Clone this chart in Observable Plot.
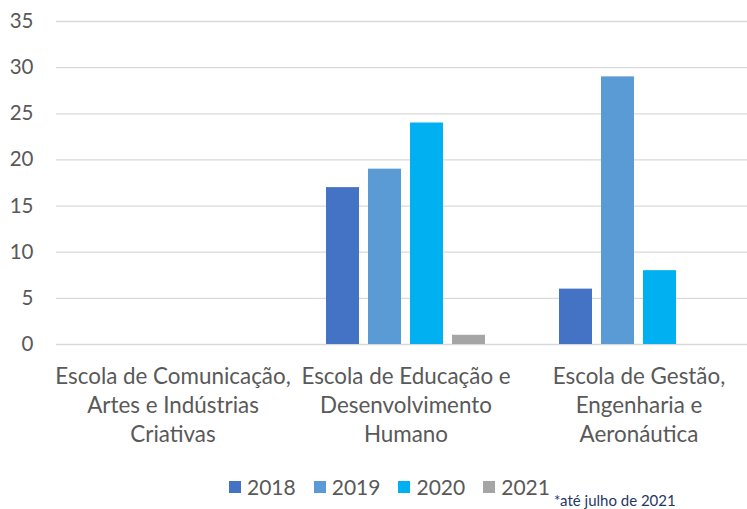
<!DOCTYPE html>
<html>
<head>
<meta charset="utf-8">
<script src="https://cdn.jsdelivr.net/npm/d3@7"></script>
<script src="https://cdn.jsdelivr.net/npm/@observablehq/plot@0.6"></script>
<style>
  html, body { margin: 0; padding: 0; background: #fff; }
  body { width: 747px; height: 509px; position: relative; overflow: hidden; font-family: Lato, "Open Sans", sans-serif; }
  #chart { width: 760px; }
  #legend { position: absolute; top: 474px; left: 229px; display: flex; gap: 18px; font-size: 21px; color: #595959; }
  #legend .item { display: flex; align-items: center; gap: 6px; }
  #legend .sw { width: 12px; height: 12px; display: inline-block; }
  #note { position: absolute; left: 554px; top: 491px; font-size: 15px; color: #1F3864; }
</style>
</head>
<body>
<div id="chart"></div>
<div id="legend"></div>
<div id="note">*até julho de 2021</div>
<script>
const categories = [
  "Escola de Comunicação,\nArtes e Indústrias\nCriativas",
  "Escola de Educação e\nDesenvolvimento\nHumano",
  "Escola de Gestão,\nEngenharia e\nAeronáutica"
];
const years = ["2018", "2019", "2020", "2021"];
const colors = ["#4472C4", "#5B9BD5", "#00B0F0", "#A5A5A5"];
// values per category, in year order
const values2018 = [0, 17, 6];
const values2019 = [0, 19, 29];
const values2020 = [0, 24, 8];
const values2021 = [0, 1, 0];
const yTicks = [0, 5, 10, 15, 20, 25, 30, 35];

const series = [values2018, values2019, values2020, values2021];
const data = [];
categories.forEach((c, i) => years.forEach((y, j) => data.push({school: c, year: y, value: series[j][i]})));

const chart = Plot.plot({
  width: 755,
  height: 470,
  marginLeft: 56,
  marginRight: 0,
  marginTop: 21,
  marginBottom: 126,
  style: {fontFamily: "Lato, 'Open Sans', sans-serif", fontSize: "19px", color: "#595959", overflow: "visible"},
  fx: {domain: categories, padding: 0, round: false},
  x: {domain: years, paddingInner: 0.214, paddingOuter: 0.881, round: false},
  y: {domain: [0, 35]},
  color: {domain: years, range: colors},
  marks: [
    Plot.ruleY(yTicks, {stroke: "#D9D9D9", strokeWidth: 1.3}),
    Plot.barY(data, {fx: "school", x: "year", y: "value", fill: "year"}),
    Plot.axisY(yTicks, {tickSize: 0, tickPadding: 23, fontSize: 20.5, fill: "#595959", label: null}),
    Plot.axisFx({anchor: "bottom", tickSize: 0, tickPadding: 19, fontSize: 22.4, lineHeight: 1.3, fill: "#595959", label: null}),
    Plot.axisX({ticks: [], label: null, tickSize: 0})
  ]
});
document.getElementById("chart").appendChild(chart);

const legend = document.getElementById("legend");
years.forEach((y, i) => {
  const item = document.createElement("span");
  item.className = "item";
  item.innerHTML = `<span class="sw" style="background:${colors[i]}"></span><span>${y}</span>`;
  legend.appendChild(item);
});
</script>
</body>
</html>
